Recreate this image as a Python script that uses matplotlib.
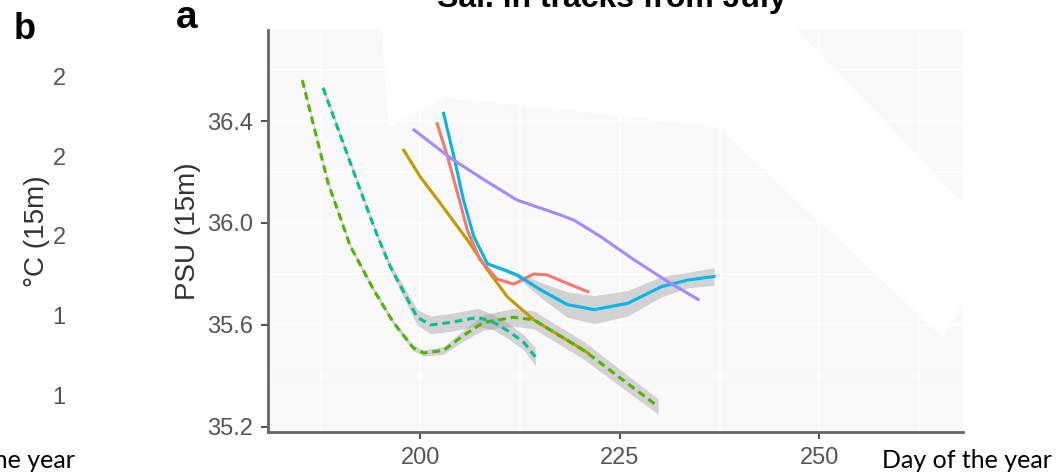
import matplotlib.pyplot as plt
from matplotlib.patches import Polygon

# salinity (PSU at 15 m) smoothed per track, day of year on x
red_day = [202.1, 203.4, 204.8, 205.9, 207.5, 209.6, 211.7, 214.2, 215.9, 218.4, 221.0]
red_psu = [36.39, 36.26, 36.10, 35.97, 35.855, 35.78, 35.76, 35.80, 35.796, 35.763, 35.73]

gold_day = [197.9, 200.0, 202.5, 205.9, 208.4, 210.9, 214.2, 218.4, 221.0]
gold_psu = [36.286, 36.18, 36.077, 35.933, 35.816, 35.71, 35.62, 35.54, 35.49]

green_day = [185.2, 188.4, 191.2, 194.1, 196.6, 199.1, 200.4, 202.9, 205.0, 207.9,
             211.7, 214.2, 216.3, 220.5, 224.7, 229.8]
green_psu = [36.56, 36.16, 35.91, 35.74, 35.61, 35.51, 35.49, 35.50, 35.55, 35.61,
             35.63, 35.62, 35.58, 35.50, 35.40, 35.28]
green_se = [0.01, 0.01, 0.01, 0.01, 0.01, 0.012, 0.012, 0.015, 0.02, 0.03,
            0.035, 0.035, 0.035, 0.035, 0.033, 0.03]

teal_day = [187.8, 192.1, 194.6, 196.2, 198.4, 199.6, 201.3, 203.8, 207.2, 209.2,
            211.3, 213.0, 214.4]
teal_psu = [36.53, 36.16, 35.95, 35.83, 35.70, 35.63, 35.60, 35.61, 35.63, 35.61,
            35.57, 35.53, 35.475]
teal_se = [0.012, 0.012, 0.012, 0.015, 0.025, 0.03, 0.035, 0.035, 0.035, 0.03,
           0.03, 0.03, 0.035]

cyan_day = [202.9, 204.2, 205.4, 206.7, 208.4, 210.5, 212.1, 215.1, 218.4, 221.8,
            226.0, 230.2, 233.5, 236.8]
cyan_psu = [36.43, 36.26, 36.09, 35.946, 35.84, 35.816, 35.796, 35.737, 35.68, 35.66,
            35.685, 35.75, 35.776, 35.79]
cyan_se = [0.005, 0.005, 0.005, 0.005, 0.006, 0.008, 0.01, 0.03, 0.05, 0.055,
           0.05, 0.04, 0.03, 0.035]

purple_day = [199.2, 203.8, 208.0, 212.1, 217.6, 219.3, 222.6, 226.8, 231.0, 234.8]
purple_psu = [36.365, 36.254, 36.169, 36.09, 36.031, 36.01, 35.946, 35.855, 35.77, 35.70]

x_ticks = [200, 225, 250]
y_ticks = [35.2, 35.6, 36.0, 36.4]

# temperature panel, only its leading tick digits show
temp_ticks = [16, 18, 20, 22, 24]
temp_tick_labels = ["1", "1", "2", "2", "2"]

fig = plt.figure(figsize=(10.64, 4.73), dpi=100)
W, H = 1064, 473

def box(l, t, r, b):
    return [l / W, 1 - b / H, (r - l) / W, (b - t) / H]

# panel b (mostly hidden behind panel a)
axb = fig.add_axes(box(70, 30, 200, 432))
axb.set_ylim(15.07, 25.18)
axb.set_yticks(temp_ticks)
axb.set_yticklabels(temp_tick_labels, fontsize=17, color="#555555",
                    family="Liberation Sans")
axb.tick_params(axis="y", length=0, pad=3)
axb.set_xticks([])
for s in axb.spines.values():
    s.set_visible(False)
axb.patch.set_visible(False)
axb.set_ylabel("°C (15m)", fontsize=20, color="#333333", family="Liberation Sans",
               labelpad=2)

# panel a
ax = fig.add_axes(box(268, 30, 963, 432))
ax.set_facecolor("#f9f9f9")
ax.set_xlim(180.9, 268.0)
ax.set_ylim(35.18, 36.757)
ax.set_xticks(x_ticks)
ax.set_yticks(y_ticks)
ax.set_yticklabels([f"{v:.1f}" for v in y_ticks])
ax.set_xticks([187.5, 212.5, 237.5, 262.5], minor=True)
ax.set_yticks([35.4, 35.8, 36.2, 36.6], minor=True)
ax.grid(True, which="both", color="white", lw=1.2)
ax.set_axisbelow(True)
ax.tick_params(which="minor", length=0)
ax.tick_params(which="major", length=5, width=1.5, color="#555555",
               labelsize=17, labelcolor="#555555", pad=6)
for lab in ax.get_xticklabels() + ax.get_yticklabels():
    lab.set_family("Liberation Sans")
for side in ["top", "right"]:
    ax.spines[side].set_visible(False)
for side in ["left", "bottom"]:
    ax.spines[side].set_color("#666666")
    ax.spines[side].set_linewidth(2)

# blank patch over part of the panel
mask = Polygon([(0.164, 1.0), (0.173, 0.759), (0.255, 0.831), (0.647, 0.759),
                (0.971, 0.236), (1.0, 0.321), (1.0, 0.570), (0.761, 1.0)],
               closed=True, transform=ax.transAxes, facecolor="white",
               edgecolor="none", zorder=0.9)
ax.add_patch(mask)

ribbon = dict(color="#999999", alpha=0.4, lw=0, zorder=1.5)
for d, p, se in [(teal_day, teal_psu, teal_se), (green_day, green_psu, green_se),
                 (cyan_day, cyan_psu, cyan_se)]:
    ax.fill_between(d, [a - b for a, b in zip(p, se)],
                    [a + b for a, b in zip(p, se)], **ribbon)

lw = 2.2
ax.plot(gold_day, gold_psu, color="#C49A00", lw=lw, zorder=2)
ax.plot(red_day, red_psu, color="#F8766D", lw=lw, zorder=2)
ax.plot(green_day, green_psu, color="#53B400", lw=lw, ls=(0, (2.5, 1.6)), zorder=2)
ax.plot(teal_day, teal_psu, color="#00C094", lw=lw, ls=(0, (2.5, 1.6)), zorder=2)
ax.plot(cyan_day, cyan_psu, color="#00B6EB", lw=lw, zorder=2.1)
ax.plot(purple_day, purple_psu, color="#A58AFF", lw=lw, zorder=2.2)

ax.set_ylabel("PSU (15m)", fontsize=20, color="#333333", family="Liberation Sans",
              labelpad=4)

fig.text(612 / W, 1 - 7 / H, "Sal. in tracks from July", ha="center", va="baseline",
         fontsize=23, fontweight="bold", family="Liberation Sans")
fig.text(187 / W, 1 - 28 / H, "a", ha="center", va="baseline", fontsize=28,
         fontweight="bold", family="Liberation Sans")
fig.text(25 / W, 1 - 39 / H, "b", ha="center", va="baseline", fontsize=26,
         fontweight="bold", family="Liberation Sans")

fig.text(1052 / W, 1 - 468 / H, "Day of the year", ha="right", va="baseline",
         fontsize=18, family="Lato")
fig.text(75 / W, 1 - 468 / H, "Day of the year", ha="right", va="baseline",
         fontsize=18, family="Lato")

fig.savefig("out.png", dpi=100)
